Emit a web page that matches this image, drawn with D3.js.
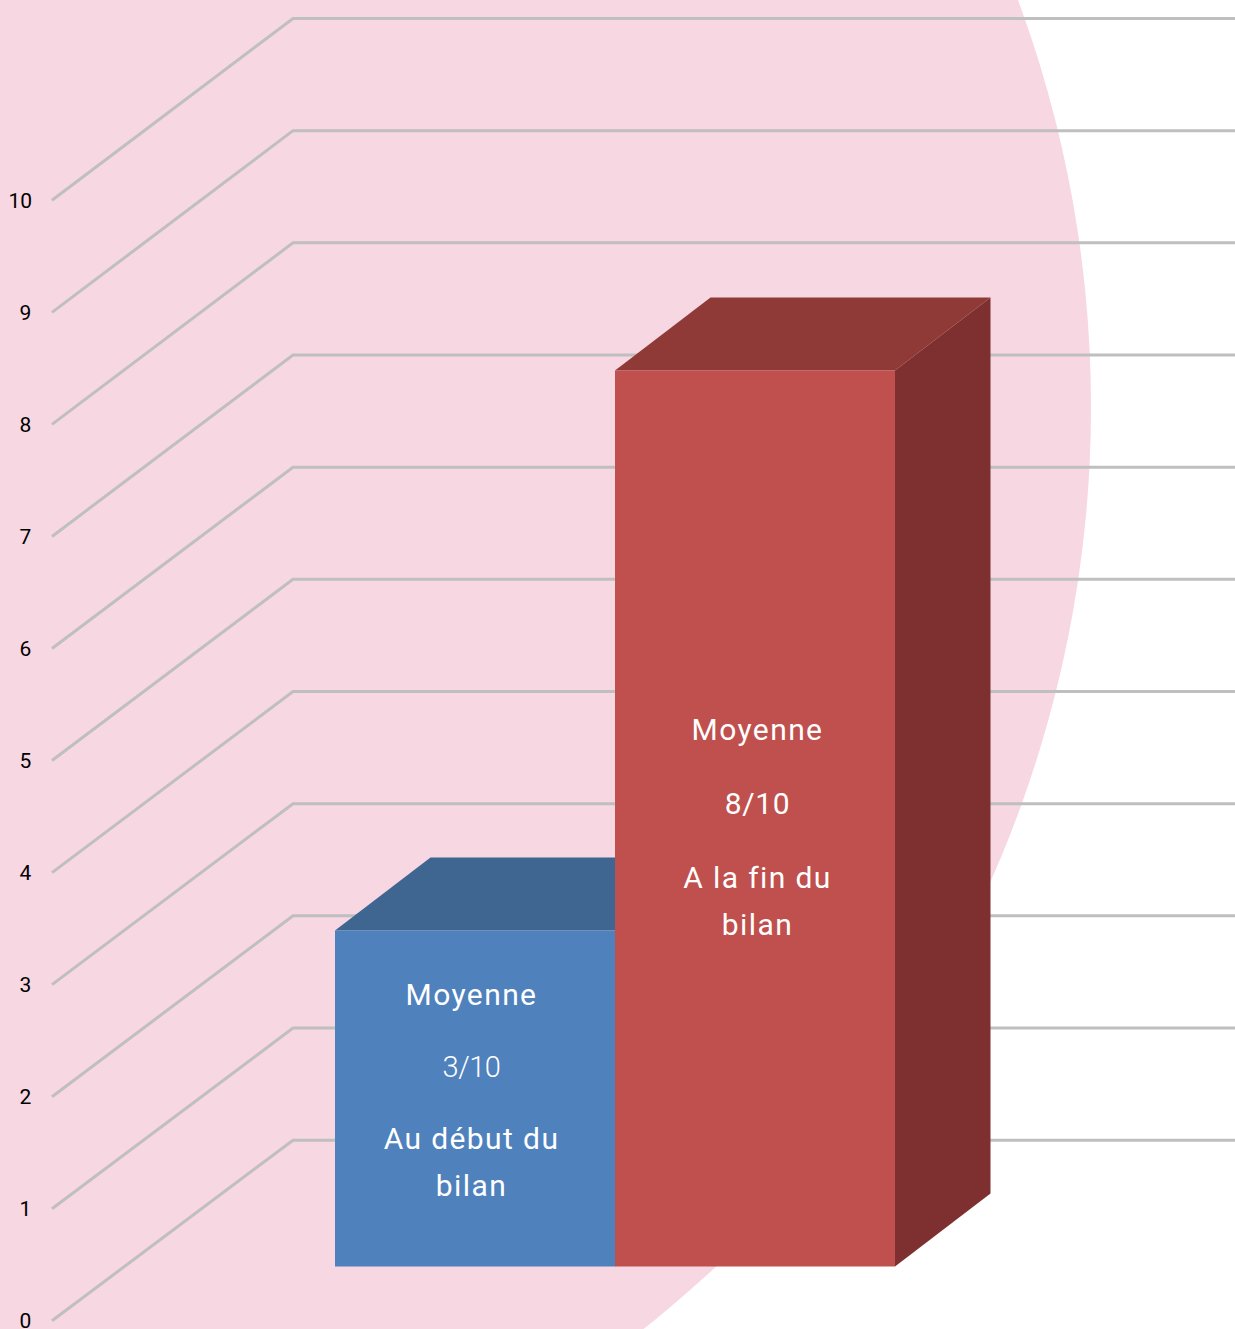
<!DOCTYPE html>
<html><head><meta charset="utf-8">
<script src="https://cdn.jsdelivr.net/npm/d3@7/dist/d3.min.js"></script>
<style>html,body{margin:0;padding:0;background:#fff;overflow:hidden}svg{display:block}</style>
</head><body><svg id="c" width="1235" height="1329"></svg>
<script>
const categories = ["Au début du bilan", "A la fin du bilan"];
const values = [3, 8];
const tickValues = [0,1,2,3,4,5,6,7,8,9,10];
const labelLines = [["Moyenne","3/10","Au début du","bilan"],["Moyenne","8/10","A la fin du","bilan"]];
const labelBaselines = [[1005,1077,1149,1196],[740,814,888,935]];
const labelCentres = [471.5,757.5];
const faceColors = ["#4F81BD","#C0504D"], topColors = ["#3F6591","#903A38"], sideColors = ["#35547A","#7D302F"];

const W=1235,H=1329, depthX=95.5, depthY=-73, backDx=241;
const svg=d3.select("#c");
const x=d3.scaleBand().domain(categories).range([335,895]);
const y=d3.scaleLinear().domain([0,10]).range([1266.5,146.5]);
const yLeft=d3.scaleLinear().domain([0,10]).range([1320.8,200.3]);
const yBack=d3.scaleLinear().domain([0,10]).range([1140.2,18.5]);

svg.append("ellipse").attr("cx",-97).attr("cy",407).attr("rx",1188).attr("ry",1179).attr("fill","#F7D7E2");

svg.append("g").selectAll("path").data(tickValues).join("path")
  .attr("d",v=>d3.line()([[52,yLeft(v)],[52+backDx,yBack(v)],[W,yBack(v)]]))
  .attr("fill","none").attr("stroke","#BFBFBF").attr("stroke-width",3);

svg.append("g").selectAll("text").data(tickValues).join("text")
  .attr("x",v=>v===10?32:31.3).attr("y",v=>yLeft(v)+7.5).attr("text-anchor","end")
  .attr("font-family","Roboto").attr("font-size",21).attr("fill","#000")
  .text(d=>d);

const bars=svg.append("g").selectAll("g").data(categories).join("g");
bars.each(function(c,i){
  const g=d3.select(this), l=x(c), r=l+x.bandwidth(), t=y(values[i]), b=y(0);
  const line=d3.line();
  g.append("path").attr("d",line([[r,t],[r+depthX,t+depthY],[r+depthX,b+depthY],[r,b]])+"Z").attr("fill",sideColors[i]);
  g.append("path").attr("d",line([[l,t],[l+depthX,t+depthY],[r+depthX,t+depthY],[r,t]])+"Z").attr("fill",topColors[i]);
  g.append("rect").attr("x",l).attr("y",t).attr("width",r-l).attr("height",b-t).attr("fill",faceColors[i]);
});
labelLines.forEach((lines,i)=>{
  svg.append("g").selectAll("text").data(lines).join("text")
    .attr("x",labelCentres[i]).attr("y",(d,j)=>labelBaselines[i][j])
    .attr("text-anchor","middle").attr("font-family","Roboto")
    .attr("font-size",d=>d==="3/10"?29:30)
    .attr("font-weight",d=>d==="3/10"?300:400)
    .attr("fill","#fff").attr("letter-spacing",d=>d==="3/10"?-0.5:d==="8/10"?0.6:1.4).text(d=>d);
});
</script></body></html>
